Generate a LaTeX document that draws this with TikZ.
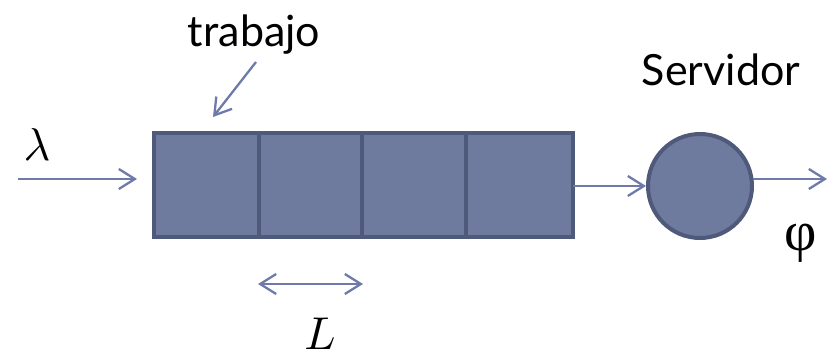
\documentclass[tikz,border=0pt]{standalone}
\usepackage{fontspec}
\setmainfont{Lato}
\newfontfamily\greekfont{Liberation Serif}
\usetikzlibrary{arrows.meta}
\definecolor{boxfill}{HTML}{6F7A9F}
\definecolor{boxline}{HTML}{4F5A7B}
\definecolor{arrowc}{HTML}{6E7AAA}
\begin{document}
\begin{tikzpicture}[x=1pt,y=1pt,
  cell/.style={draw=boxline,fill=boxfill,line width=4pt,minimum width=105pt,minimum height=104pt,inner sep=0pt,outer sep=0pt},
  srv/.style={circle,draw=boxline,fill=boxfill,line width=4pt,minimum size=104pt,inner sep=0pt},
  conn/.style={draw=arrowc,line width=2.3pt,-{Straight Barb[length=16pt,width=20pt,line width=2.3pt]}},
  dconn/.style={draw=arrowc,line width=2.3pt,{Straight Barb[length=16pt,width=20pt,line width=2.3pt]}-{Straight Barb[length=16pt,width=20pt,line width=2.3pt]}},
  lbl/.style={font=\fontsize{43}{48}\selectfont,inner sep=0pt},
  mathlbl/.style={inner sep=0pt,scale=4.6}]
\useasboundingbox (0,0) rectangle (831,357);
% queue cells (y' = 357 - y)
\node[cell,anchor=north west] (c1) at (153.5,224) {};
\node[cell,anchor=north west,minimum width=103pt] (c2) at (c1.north east) {};
\node[cell,anchor=north west,minimum width=104pt] (c3) at (c2.north east) {};
\node[cell,anchor=north west,minimum width=107pt] (c4) at (c3.north east) {};
\node[srv] (s) at (700,171) {};
% labels
\node[mathlbl] (lam) at (37,212) {$\lambda$};
\node[mathlbl] (ell) at (320,23) {$L$};
\node[lbl] (trab) at (254,322) {trabajo};
\node[lbl] (serv) at (721,287) {Servidor};
\node[font=\greekfont,inner sep=0pt,scale=5.6] (phi) at (801,114) {φ};
% connectors
\coordinate (inS) at (18,178);
\coordinate (inE) at (137,178);
\draw[conn] (inS) -- (inE);
\draw[conn] (c4.east |- 0,171) -- (s.west);
\coordinate (outS) at (753,178);
\coordinate (outE) at (827,178);
\draw[conn] (outS) -- (outE);
\coordinate (tS) at (256,295);
\coordinate (tE) at (213,240);
\draw[conn] (tS) -- (tE);
\coordinate (dS) at (258,73);
\coordinate (dE) at (363,73);
\draw[dconn] (dS) -- (dE);
\end{tikzpicture}
\end{document}
